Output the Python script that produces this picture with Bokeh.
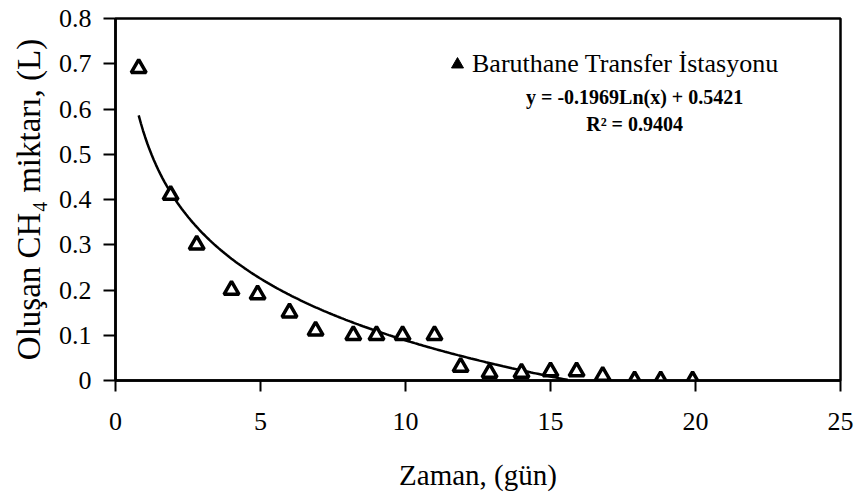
import numpy as np
from bokeh.plotting import figure
from bokeh.models import (Range1d, FixedTicker, Legend, LegendItem, Label, ColumnDataSource)
from bokeh.embed import file_html
from bokeh.resources import INLINE

# ---- data ----
days = [0.8, 1.9, 2.8, 4.0, 4.9, 6.0, 6.9, 8.2, 9.0, 9.9, 11.0, 11.9, 12.9, 14.0, 15.0, 15.9, 16.8, 17.9, 18.8, 19.9]
ch4 = [0.69, 0.41, 0.30, 0.20, 0.19, 0.15, 0.11, 0.10, 0.10, 0.10, 0.10, 0.03, 0.017, 0.017, 0.02, 0.02, 0.01, 0.0, 0.0, 0.0]

# logarithmic trend line shown in the chart: y = a*Ln(x) + b
trend_a = -0.1969
trend_b = 0.5421
trend_x_start = 0.8
trend_x_end = 15.6

x_ticks = [0, 5, 10, 15, 20, 25]
x_tick_labels = ["0", "5", "10", "15", "20", "25"]
y_ticks = [0.0, 0.1, 0.2, 0.3, 0.4, 0.5, 0.6, 0.7, 0.8]
y_tick_labels = ["0", "0.1", "0.2", "0.3", "0.4", "0.5", "0.6", "0.7", "0.8"]

series_label = "Baruthane Transfer İstasyonu"
equation_text = "y = -0.1969Ln(x) + 0.5421"
r2_text = "R² = 0.9404"

FONT = "Liberation Serif"

p = figure(width=855, height=493, output_backend="svg", toolbar_location=None,
           x_range=Range1d(0, 25), y_range=Range1d(0, 0.8),
           min_border_left=115, min_border_right=15, min_border_top=18, min_border_bottom=112)
p.background_fill_color = "white"
p.border_fill_color = "white"
p.xgrid.visible = False
p.ygrid.visible = False
p.outline_line_color = "black"
p.outline_line_width = 2.5

for ax in (p.xaxis[0], p.yaxis[0]):
    ax.axis_line_width = 2.5
    ax.major_tick_line_width = 2
    ax.minor_tick_line_color = None
    ax.major_label_text_font = FONT
    ax.major_label_text_font_size = "26px"
    ax.major_label_text_color = "black"
    ax.axis_label_text_font = FONT
    ax.axis_label_text_font_style = "normal"
    ax.axis_label_text_color = "black"

p.xaxis.ticker = FixedTicker(ticks=x_ticks)
p.xaxis.major_label_overrides = {t: l for t, l in zip(x_ticks, x_tick_labels)}
p.yaxis.ticker = FixedTicker(ticks=y_ticks)
p.yaxis.major_label_overrides = {t: l for t, l in zip(y_ticks, y_tick_labels)}

p.xaxis.major_tick_out = 11
p.xaxis.major_tick_in = 0
p.xaxis.major_label_standoff = 21
p.xaxis.axis_label = "Zaman, (gün)"
p.xaxis.axis_label_text_font_size = "29px"
p.xaxis.axis_label_standoff = 26

p.yaxis.major_tick_out = 12
p.yaxis.major_tick_in = 0
p.yaxis.major_label_standoff = 12
p.yaxis.axis_label = "Oluşan CH₄ miktarı, (L)"
p.yaxis.axis_label_text_font_size = "33px"
p.yaxis.axis_label_standoff = 9

# trend line
tx = np.linspace(trend_x_start, trend_x_end, 200)
ty = trend_a * np.log(tx) + trend_b
p.line(tx, ty, line_color="black", line_width=2.5)

# data points
src = ColumnDataSource(dict(x=days, y=ch4))
p.scatter("x", "y", source=src, marker="triangle", size=15, fill_color="white",
          line_color="black", line_width=3.5)

# legend glyph (filled triangle, as in the reference legend); not drawn in the plot area
leg_src = ColumnDataSource(dict(x=[np.nan], y=[np.nan]))
leg_r = p.scatter("x", "y", source=leg_src, marker="triangle", size=20,
                  fill_color="black", line_color="black", line_width=1)
legend = Legend(items=[LegendItem(label=series_label, renderers=[leg_r])],
                location=(327, 301), padding=0, margin=0, spacing=0,
                glyph_width=30, glyph_height=30, label_standoff=0,
                label_text_font=FONT, label_text_font_size="26px", label_text_color="black",
                border_line_alpha=0, background_fill_alpha=0)
p.add_layout(legend, "center")

p.add_layout(Label(x=17.9, y=0.626, text=equation_text, text_align="center", text_baseline="middle",
                   text_font=FONT, text_font_size="20px", text_font_style="bold", text_color="black"))
p.add_layout(Label(x=17.9, y=0.566, text=r2_text, text_align="center", text_baseline="middle",
                   text_font=FONT, text_font_size="20px", text_font_style="bold", text_color="black"))

open("out.html", "w").write(file_html(p, INLINE))
